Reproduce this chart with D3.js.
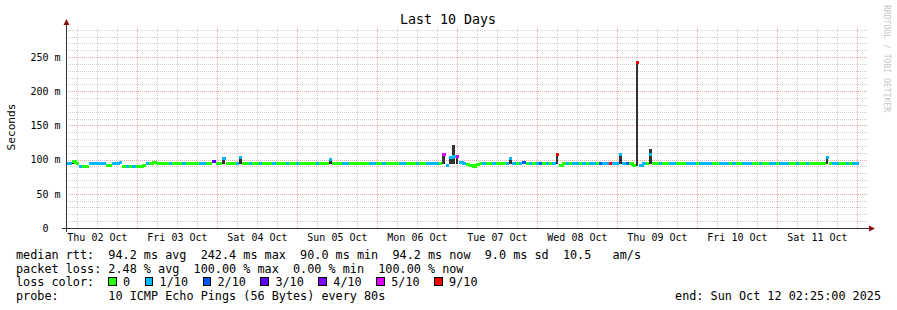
<!DOCTYPE html>
<html lang="en">
<head>
<meta charset="utf-8">
<title>Last 10 Days</title>
<script src="https://cdn.jsdelivr.net/npm/d3@7"></script>
<style>
  body { margin: 0; background: #fff; }
  svg text { font-family: "DejaVu Sans Mono", monospace; white-space: pre; }
</style>
</head>
<body>
<script>
// time window of the graph
const startTime = new Date(2025, 9, 2, 2, 25);
const endTime = new Date(2025, 9, 12, 2, 25);

const dayLabels = ["Thu 02 Oct", "Fri 03 Oct", "Sat 04 Oct", "Sun 05 Oct", "Mon 06 Oct",
                   "Tue 07 Oct", "Wed 08 Oct", "Thu 09 Oct", "Fri 10 Oct", "Sat 11 Oct"];
const yTicks = [0, 50, 100, 150, 200, 250];

// median rtt (ms), one value per hour from startTime
const median = [
  94,94,97,94,90,90,90,94,94,94,94,94,91,92,94,94,96,90,90,90,90,90,90,92,
  94,94,96,94,94,94,94,94,94,94,94,94,94,94,94,94,94,94,94,94,97,94,94,101,
  94,94,94,94,103,94,94,94,94,94,94,94,94,94,94,94,94,94,94,94,94,94,94,94,
  94,94,94,94,94,94,94,100,94,94,94,94,94,94,94,94,94,94,94,94,94,94,94,94,
  94,94,94,94,94,94,94,94,94,94,94,94,94,94,94,94,94,107.7,92,103,104,104,96,94,
  93,92,90,93,94,94,94,94,94,94,94,94,94,102,94,94,94,96,94,94,94,94,95,94,
  94,94,94,107.7,92,94,94,94,94,94,94,94,94,94,94,94,95,94,94,94,94,94,107,94,
  94,94,91,242.4,91,94,94,107,94,94,94,94,94,94,94,94,94,94,94,94,94,94,94,94,
  94,94,94,94,94,94,94,94,94,94,94,94,94,94,94,94,94,94,94,94,94,94,94,94,
  94,94,94,94,94,94,94,94,94,94,94,94,103,94,94,94,94,94,94,94,94,94
];

// lost pings out of 10, same hourly slots
const loss = [
  1,1,0,0,1,0,0,1,1,1,1,1,0,0,1,1,1,0,1,0,1,0,0,0,
  1,0,0,0,0,0,0,1,0,0,0,1,0,0,0,0,1,1,0,0,3,0,0,1,
  0,0,0,1,1,0,0,1,0,0,1,0,0,0,1,0,0,0,1,0,0,1,0,0,
  0,0,0,1,0,0,0,1,0,0,0,1,1,0,0,0,0,0,0,1,1,0,0,1,
  0,0,0,0,1,1,0,0,0,1,0,0,1,1,1,1,0,5,1,1,1,5,1,1,
  0,0,0,0,0,1,0,0,1,0,0,0,1,1,1,0,1,2,0,1,0,1,2,0,
  1,0,1,9,0,0,1,0,1,1,0,1,0,1,1,0,2,1,1,9,1,1,1,1,
  2,0,0,9,1,1,0,1,0,0,1,0,0,1,1,0,0,0,1,1,1,0,1,1,
  1,1,0,0,1,1,1,0,1,0,0,1,1,1,0,0,1,0,0,1,1,0,1,1,
  1,0,0,1,0,0,1,0,0,0,0,0,1,0,1,1,0,0,1,0,1,1
];

// smoke (spread of single pings) where it stands out
const smokeSlot = [2, 16, 47, 52, 79, 113, 115, 116, 117, 133, 147, 166, 171, 175, 228];
const smokeLow  = [94, 94, 94, 94, 94, 94, 94, 94, 94, 94, 94, 94, 91, 94, 94];
const smokeHigh = [97, 96, 102, 104, 102, 108, 104, 121, 107, 103, 108, 108, 243, 115.5, 103];

const lossLabels = ["0", "1/10", "2/10", "3/10", "4/10", "5/10", "9/10"];
const lossKeys = [0, 1, 2, 3, 4, 5, 9];
const lossColors = ["#26ff00", "#00b8ff", "#0059ff", "#5e00ff", "#7e00ff", "#dd00ff", "#ff0000"];

const rttStats = ["94.2 ms avg", "242.4 ms max", "90.0 ms min", "94.2 ms now", "9.0 ms sd", "10.5   am/s"];
const lossStats = ["2.48 % avg", "100.00 % max", "0.00 % min", "100.00 % now"];

const W = 897, H = 310;
const svg = d3.select("body").append("svg").attr("width", W).attr("height", H);
svg.append("rect").attr("width", W).attr("height", H).attr("fill", "#fff");

const x = d3.scaleTime().domain([startTime, endTime]).range([65.5, 865.5]);
const y = d3.scaleLinear().domain([0, 294]).range([228, 27]);
const px = v => Math.round(v) + 0.5;
const colorOf = d3.scaleOrdinal().domain(lossKeys).range(lossColors);
const slotTime = i => d3.timeHour.offset(startTime, i);

// grid
const grid = svg.append("g").attr("shape-rendering", "crispEdges");
d3.range(10, 300, 10).forEach(v => {
  const major = v % 50 === 0;
  grid.append("line")
    .attr("x1", 66).attr("x2", 868)
    .attr("y1", px(y(v))).attr("y2", px(y(v)))
    .attr("stroke", major ? "#e6a8a8" : "#cfcfcf")
    .attr("stroke-dasharray", "1,1");
});
d3.timeHour.every(6).range(startTime, endTime).forEach(t => {
  const major = t.getHours() === 0;
  grid.append("line")
    .attr("x1", px(x(t))).attr("x2", px(x(t)))
    .attr("y1", 228).attr("y2", 27)
    .attr("stroke", major ? "#e6a8a8" : "#cfcfcf")
    .attr("stroke-dasharray", "1,1");
});

// smoke
svg.append("g").attr("shape-rendering", "crispEdges")
  .selectAll("rect")
  .data(smokeSlot)
  .join("rect")
  .attr("x", s => x(slotTime(s)))
  .attr("width", s => x(slotTime(s + 1)) - x(slotTime(s)) - 0.4)
  .attr("y", (s, i) => y(smokeHigh[i]))
  .attr("height", (s, i) => y(smokeLow[i]) - y(smokeHigh[i]))
  .attr("fill", "#333");

// median line: a step per slot in its loss colour,
// small steps joined, big jumps left to the smoke
const medG = svg.append("g").attr("shape-rendering", "crispEdges");
lossKeys.forEach(k => {
  const p = d3.path();
  loss.forEach((l, i) => {
    if (l !== k) return;
    const x0 = x(slotTime(i)), x1 = x(slotTime(i + 1));
    p.moveTo(x0, y(median[i]));
    p.lineTo(x1, y(median[i]));
    if (i + 1 < loss.length && loss[i + 1] === k && Math.abs(median[i + 1] - median[i]) <= 4) {
      p.lineTo(x1, y(median[i + 1]));
    }
  });
  medG.append("path")
    .attr("d", p.toString())
    .attr("fill", "none")
    .attr("stroke", colorOf(k))
    .attr("stroke-width", 3);
});

// axes
const axisG = svg.append("g").attr("shape-rendering", "crispEdges");
axisG.append("line").attr("x1", 62).attr("x2", 870).attr("y1", 228.5).attr("y2", 228.5)
  .attr("stroke", "#333");
axisG.append("line").attr("x1", 66.5).attr("x2", 66.5).attr("y1", 232).attr("y2", 24)
  .attr("stroke", "#333");
svg.append("path").attr("d", "M63.5,25 L69.5,25 L66.5,19 Z").attr("fill", "#8b1010");
svg.append("path").attr("d", "M869,225.5 L869,231.5 L875,228.5 Z").attr("fill", "#8b1010");

// y labels
svg.append("g").selectAll("text")
  .data(yTicks)
  .join("text")
  .attr("xml:space", "preserve")
  .attr("x", 60.5)
  .attr("y", d => y(d) + 3.7)
  .attr("text-anchor", "end")
  .attr("font-size", 10)
  .text(d => d === 0 ? "0  " : d + " m");

// x labels at noon of each day
svg.append("g").selectAll("text")
  .data(dayLabels)
  .join("text")
  .attr("x", (d, i) => x(new Date(2025, 9, 2 + i, 12, 0)))
  .attr("y", 241)
  .attr("text-anchor", "middle")
  .attr("font-size", 10)
  .text(d => d);

// title, y title, watermark
svg.append("text").attr("x", 448).attr("y", 23.5).attr("text-anchor", "middle")
  .attr("font-size", 13.3).text("Last 10 Days");
svg.append("text").attr("transform", "translate(15,127) rotate(-90)")
  .attr("text-anchor", "middle").attr("font-size", 11.2).text("Seconds");
svg.append("text").attr("transform", "translate(883.5,5) rotate(90)")
  .attr("font-size", 8.1).attr("fill", "#c8c8c8").text("RRDTOOL / TOBI OETIKER");

// legend
const legFont = 11.8;
const leg = svg.append("g").attr("font-size", legFont);
leg.append("text").attr("xml:space", "preserve").attr("x", 16).attr("y", 259)
  .text("median rtt:  " + rttStats.join("  "));
leg.append("text").attr("xml:space", "preserve").attr("x", 16).attr("y", 272.7)
  .text("packet loss: " + lossStats.join("  "));
leg.append("text").attr("x", 16).attr("y", 286.4).text("loss color:");
let cx = 108;
lossLabels.forEach((lab, i) => {
  leg.append("rect").attr("x", cx + 0.5).attr("y", 277.5).attr("width", 7.5).attr("height", 7.5)
    .attr("fill", lossColors[i]).attr("stroke", "#000").attr("stroke-width", 1)
    .attr("shape-rendering", "crispEdges");
  leg.append("text").attr("x", cx + 15).attr("y", 286.4).text(lab);
  cx += 15 + lab.length * 7.1 + 14.5;
});
leg.append("text").attr("xml:space", "preserve").attr("x", 16).attr("y", 300.1)
  .text("probe:       10 ICMP Echo Pings (56 Bytes) every 80s");
leg.append("text").attr("x", 881).attr("y", 300.1).attr("text-anchor", "end")
  .text("end: Sun Oct 12 02:25:00 2025");
</script>
</body>
</html>
